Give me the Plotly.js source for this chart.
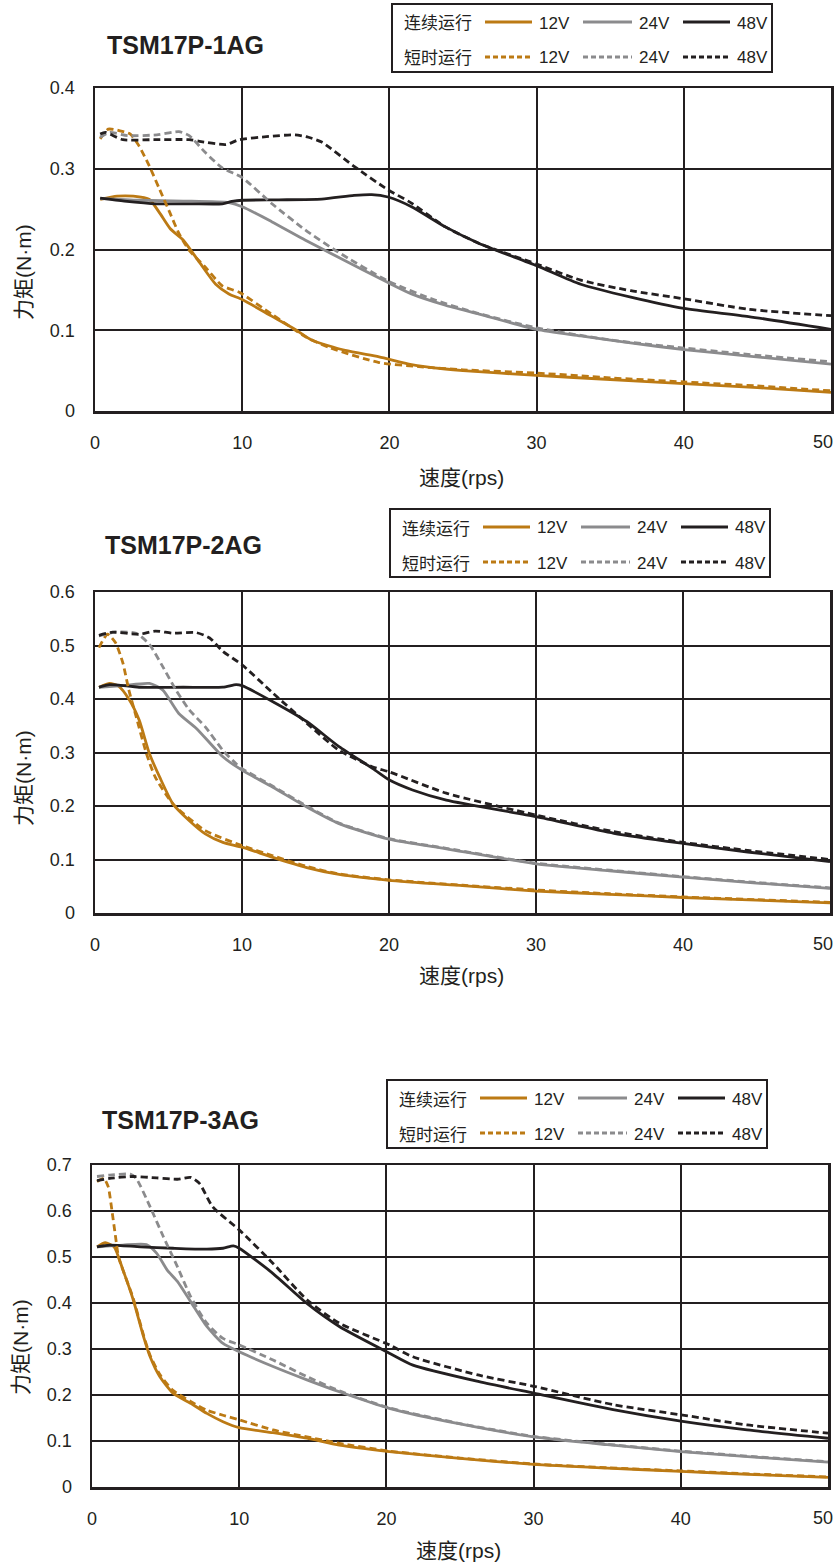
<!DOCTYPE html>
<html><head><meta charset="utf-8">
<script src="https://cdn.plot.ly/plotly-3.0.1.min.js"></script>
<style>html,body{margin:0;padding:0;background:#fff}</style>
</head><body><div id="chart" style="width:836px;height:1566px"></div>
<script>
// ---------- Data (speed rps -> torque N·m) ----------
const chartTitles = ['TSM17P-1AG', 'TSM17P-2AG', 'TSM17P-3AG'];
const voltages = ['12V', '24V', '48V'];
const rowLabels = ['连续运行', '短时运行'];
const xTicks = [0, 10, 20, 30, 40, 50];
const xTickText = ['0', '10', '20', '30', '40', '50'];
const yMax = [0.4, 0.6, 0.7];

// Chart 1: TSM17P-1AG
const c1_12c_x = [0.35,1.5,2.6,3.7,4.4,5.1,6.0,7.1,8.2,9.1,10,12,13.6,14.7,17,19.3,21.5,23.8,25,30,35,40,45,50];
const c1_12c_y = [0.262,0.266,0.266,0.262,0.245,0.226,0.2115,0.184,0.157,0.145,0.138,0.1175,0.101,0.088,0.075,0.067,0.0575,0.052,0.050,0.044,0.039,0.034,0.029,0.023];
const c1_12s_x = [0.35,0.9,1.7,2.4,3.0,3.7,4.4,5.1,5.7,6.4,7.5,8.65,9.8,12,14.3,16,19.3,22,25,30,35,40,45,50];
const c1_12s_y = [0.337,0.349,0.347,0.343,0.328,0.303,0.274,0.245,0.22,0.199,0.178,0.155,0.147,0.12,0.092,0.078,0.060,0.055,0.051,0.047,0.041,0.036,0.031,0.025];
const c1_24c_x = [0.35,3,6,9.1,10,12,14.3,16.5,19.9,21.5,23.8,26.1,30,33,36.5,40,44.4,50];
const c1_24c_y = [0.263,0.261,0.260,0.258,0.253,0.2345,0.2115,0.1906,0.159,0.145,0.131,0.120,0.101,0.093,0.084,0.076,0.068,0.058];
const c1_24s_x = [0.35,1,2.2,4.2,5.7,6.4,7.5,8.65,10,12,14.3,16.5,19.9,23,26,30,35,40,45,50];
const c1_24s_y = [0.339,0.345,0.341,0.342,0.346,0.341,0.320,0.301,0.289,0.257,0.224,0.197,0.161,0.138,0.121,0.103,0.088,0.078,0.069,0.061];
const c1_48c_x = [0.35,2,4.2,6.5,8.65,9.3,10,12.5,15.4,17.6,18.8,19.9,21.5,23.8,26.1,30,33,36.4,40,44.4,50];
const c1_48c_y = [0.2637,0.260,0.2566,0.2566,0.2566,0.2595,0.261,0.2615,0.2624,0.267,0.268,0.265,0.253,0.228,0.2075,0.180,0.157,0.141,0.127,0.117,0.101];
const c1_48s_x = [0.35,0.7,1.9,4,6.4,7.1,8.9,9.8,11.8,13.6,14.5,15.4,17.6,19.9,21.5,23.8,26.1,30,33,36.4,40,44.4,50];
const c1_48s_y = [0.343,0.345,0.336,0.336,0.336,0.334,0.330,0.336,0.340,0.342,0.339,0.333,0.303,0.274,0.2575,0.228,0.2075,0.182,0.162,0.149,0.139,0.126,0.118];

// Chart 2: TSM17P-2AG
const c2_12c_x = [0.27,1,1.6,2.3,3,3.7,4.4,5.3,6.4,7.5,8.7,10,12.1,14.4,16.6,20,25,30,35,40,45,50];
const c2_12c_y = [0.422,0.429,0.424,0.400,0.361,0.298,0.254,0.204,0.173,0.148,0.132,0.123,0.104,0.085,0.072,0.061,0.051,0.041,0.035,0.029,0.024,0.019];
const c2_12s_x = [0.27,0.85,1.4,1.9,2.3,2.8,3.5,4.1,5.3,7.5,10,12.1,14.4,16.6,20,25,30,35,40,45,50];
const c2_12s_y = [0.496,0.521,0.505,0.467,0.417,0.367,0.298,0.254,0.204,0.154,0.126,0.107,0.087,0.073,0.062,0.052,0.043,0.036,0.030,0.025,0.020];
const c2_24c_x = [0.27,1.9,3.7,4.6,5.7,6.9,8.7,10,12.1,14.4,16.6,20,23.9,30,35,40,45,50];
const c2_24c_y = [0.422,0.425,0.429,0.417,0.373,0.345,0.292,0.267,0.235,0.198,0.167,0.138,0.120,0.092,0.079,0.067,0.056,0.046];
const c2_24s_x = [0.27,1.4,2.8,3.7,4.6,5.5,6.4,7.5,8.7,9.6,10,12.1,14.4,16.6,20,23.9,30,35,40,45,50];
const c2_24s_y = [0.518,0.525,0.523,0.502,0.461,0.417,0.380,0.348,0.304,0.279,0.270,0.237,0.200,0.168,0.139,0.121,0.093,0.080,0.068,0.057,0.047];
const c2_48c_x = [0.27,1,3,6,8.7,9.6,10,12.1,14.4,16.6,18.9,20,21.6,23.9,30,35.3,40,44.4,50];
const c2_48c_y = [0.422,0.427,0.422,0.422,0.422,0.427,0.425,0.395,0.358,0.311,0.270,0.249,0.230,0.211,0.180,0.149,0.130,0.114,0.096];
const c2_48s_x = [0.27,1.2,3,4.1,5.3,6.9,7.8,8.7,10,12.1,14.4,16.6,18.9,20,23.9,30,35.3,40,44.4,50];
const c2_48s_y = [0.519,0.525,0.521,0.527,0.523,0.524,0.514,0.489,0.464,0.411,0.355,0.304,0.273,0.264,0.224,0.183,0.152,0.132,0.117,0.100];

// Chart 3: TSM17P-3AG
const c3_12c_x = [0.34,0.9,1.5,2.1,2.8,3.5,3.95,4.6,5.5,6.7,7.8,8.9,10,12.3,14.6,16.8,20.2,25,30,35,40,45,50];
const c3_12c_y = [0.522,0.531,0.522,0.472,0.407,0.327,0.283,0.240,0.204,0.182,0.160,0.142,0.129,0.118,0.106,0.091,0.077,0.062,0.049,0.041,0.034,0.027,0.021];
const c3_12s_x = [0.34,0.8,1.1,1.35,1.6,1.8,2.1,2.8,3.5,3.95,4.6,5.5,6.7,7.8,8.9,10,12.3,14.6,16.8,20.2,25,30,35,40,45,50];
const c3_12s_y = [0.664,0.671,0.653,0.602,0.544,0.500,0.472,0.410,0.330,0.286,0.245,0.210,0.186,0.167,0.156,0.146,0.124,0.109,0.095,0.078,0.063,0.050,0.042,0.035,0.028,0.022];
const c3_24c_x = [0.34,2.1,3.7,4.4,5.1,5.8,6.7,7.8,8.9,10,12.3,14.6,16.8,20.2,25,30,35,40,45,50];
const c3_24c_y = [0.522,0.526,0.527,0.508,0.472,0.447,0.403,0.349,0.312,0.294,0.262,0.233,0.207,0.171,0.137,0.109,0.092,0.077,0.065,0.054];
const c3_24s_x = [0.34,1.2,2.6,3,3.95,4.85,5.8,6.7,7.8,8.9,10,12.3,14.6,16.8,20.2,25,30,35,40,45,50];
const c3_24s_y = [0.675,0.678,0.680,0.671,0.609,0.544,0.479,0.414,0.356,0.323,0.309,0.276,0.240,0.209,0.172,0.138,0.110,0.093,0.078,0.066,0.055];
const c3_48c_x = [0.34,1.2,3.3,5.5,7.8,8.9,9.6,10,12.3,14.6,16.8,20.2,21.8,26.3,30,35.4,40,44.5,50];
const c3_48c_y = [0.522,0.526,0.522,0.519,0.517,0.519,0.524,0.519,0.464,0.399,0.349,0.291,0.265,0.229,0.204,0.168,0.143,0.124,0.106];
const c3_48s_x = [0.34,1.2,2.8,4.4,5.8,6.7,7.3,8.2,10,12.3,14.6,16.8,20.2,21.8,26.3,30,35.4,40,44.5,50];
const c3_48s_y = [0.666,0.671,0.675,0.672,0.669,0.673,0.660,0.609,0.559,0.486,0.407,0.356,0.309,0.283,0.243,0.219,0.179,0.157,0.135,0.117];

// ---------- Styling ----------
const W = 836, H = 1566;
const COLORS = {'12V': '#bc7a14', '24V': '#8b8b8d', '48V': '#231f20'};
const AXC = '#231f20';
const FONT = 'Liberation Sans, Arial, Noto Sans CJK SC, sans-serif';
const CJK = 'Noto Sans CJK SC, Liberation Sans, sans-serif';
const DASH = '7px,4px';
function px(x) { return x / W; }
function py(y) { return 1 - y / H; }

const series = [
  [[c1_12c_x,c1_12c_y],[c1_24c_x,c1_24c_y],[c1_48c_x,c1_48c_y],[c1_12s_x,c1_12s_y],[c1_24s_x,c1_24s_y],[c1_48s_x,c1_48s_y]],
  [[c2_12c_x,c2_12c_y],[c2_24c_x,c2_24c_y],[c2_48c_x,c2_48c_y],[c2_12s_x,c2_12s_y],[c2_24s_x,c2_24s_y],[c2_48s_x,c2_48s_y]],
  [[c3_12c_x,c3_12c_y],[c3_24c_x,c3_24c_y],[c3_48c_x,c3_48c_y],[c3_12s_x,c3_12s_y],[c3_24s_x,c3_24s_y],[c3_48s_x,c3_48s_y]]
];

// pixel geometry for each panel
const geo = [
  {plot:{l:95,r:831,t:88,b:411}, leg:{l:392,t:4}, title:{x:105,y:45}, ytl:{x:23,y:272}, xtl:{x:461,y:477}},
  {plot:{l:95,r:830,t:592,b:913}, leg:{l:390,t:509}, title:{x:103,y:545}, ytl:{x:23,y:778}, xtl:{x:461,y:975}},
  {plot:{l:92,r:828,t:1165,b:1487}, leg:{l:387,t:1080}, title:{x:100,y:1120}, ytl:{x:20,y:1347}, xtl:{x:459,y:1550}}
];

const traces = [];
const layout = {
  width: W, height: H,
  margin: {l:0, r:0, t:0, b:0},
  paper_bgcolor: '#fff', plot_bgcolor: '#fff',
  showlegend: false,
  font: {family: FONT, color: '#231f20', size: 17},
  shapes: [], annotations: []
};

for (let c = 0; c < 3; c++) {
  const g = geo[c];
  const sfx = c === 0 ? '' : String(c + 1);
  series[c].forEach((s, i) => {
    const v = voltages[i % 3];
    traces.push({
      x: s[0], y: s[1], type: 'scatter', mode: 'lines',
      name: rowLabels[i < 3 ? 0 : 1] + ' ' + v,
      xaxis: 'x' + sfx, yaxis: 'y' + sfx,
      line: {color: COLORS[v], width: 2.8, dash: i < 3 ? 'solid' : DASH, shape: 'spline', smoothing: 0.6},
      hoverinfo: 'x+y+name'
    });
  });
  // last x tick label ("50") sits at the paper edge: drawn as an annotation pulled inside
  const shownText = xTickText.map((t, k) => k === xTickText.length - 1 ? '' : t);
  layout['xaxis' + sfx] = {
    domain: [px(g.plot.l), px(g.plot.r)], anchor: 'y' + sfx,
    range: [0, 50], tickvals: xTicks, ticktext: shownText, ticks: '', ticklabelstandoff: 14,
    showgrid: true, gridcolor: AXC, gridwidth: 2, zeroline: false,
    showline: true, mirror: true, linecolor: AXC, linewidth: 2.5,
    tickfont: {family: FONT, size: 18, color: '#231f20'}
  };
  layout.annotations.push({text: xTickText[xTickText.length - 1], xref: 'paper', yref: 'paper',
    x: px(835), y: py(g.plot.b + 31), xanchor: 'right', yanchor: 'middle', showarrow: false,
    font: {family: FONT, size: 18, color: '#231f20'}});
  const yt = [];
  for (let k = 0; k <= Math.round(yMax[c] * 10); k++) yt.push(+(k / 10).toFixed(1));
  layout['yaxis' + sfx] = {
    domain: [py(g.plot.b), py(g.plot.t)], anchor: 'x' + sfx,
    range: [0, yMax[c]], tickvals: yt, ticks: '', ticklabelstandoff: 14,
    showgrid: true, gridcolor: AXC, gridwidth: 2, zeroline: false,
    showline: true, mirror: true, linecolor: AXC, linewidth: 2.5,
    tickfont: {family: FONT, size: 18, color: '#231f20'}
  };
  // chart title
  layout.annotations.push({text: '<b>' + chartTitles[c] + '</b>', xref: 'paper', yref: 'paper',
    x: px(g.title.x), y: py(g.title.y), xanchor: 'left', yanchor: 'middle', showarrow: false,
    font: {family: FONT, size: 25, color: '#231f20'}});
  // axis titles
  layout.annotations.push({text: '力矩(N·m)', xref: 'paper', yref: 'paper', textangle: -90,
    x: px(g.ytl.x), y: py(g.ytl.y), xanchor: 'center', yanchor: 'middle', showarrow: false,
    font: {family: FONT, size: 21, color: '#231f20'}});
  layout.annotations.push({text: '速度(rps)', xref: 'paper', yref: 'paper',
    x: px(g.xtl.x), y: py(g.xtl.y), xanchor: 'center', yanchor: 'middle', showarrow: false,
    font: {family: FONT, size: 21, color: '#231f20'}});
  // legend box
  const L = g.leg.l, T = g.leg.t;
  layout.shapes.push({type: 'rect', xref: 'paper', yref: 'paper',
    x0: px(L), x1: px(L + 380), y0: py(T), y1: py(T + 68),
    line: {color: AXC, width: 2}, fillcolor: '#fff', layer: 'above'});
  const rowsY = [T + 18, T + 53];
  const lineX = [[93, 140], [191, 240], [291, 338]];
  const textX = [145, 245, 343];
  rowsY.forEach((ry, r) => {
    layout.annotations.push({text: rowLabels[r], xref: 'paper', yref: 'paper',
      x: px(L + 10), y: py(ry), xanchor: 'left', yanchor: 'middle', showarrow: false,
      font: {family: CJK, size: 17, color: '#231f20'}});
    voltages.forEach((v, k) => {
      layout.shapes.push({type: 'line', xref: 'paper', yref: 'paper',
        x0: px(L + lineX[k][0]), x1: px(L + lineX[k][1]), y0: py(ry), y1: py(ry),
        line: {color: COLORS[v], width: 2.8, dash: r === 0 ? 'solid' : '5px,3px'}, layer: 'above'});
      layout.annotations.push({text: v, xref: 'paper', yref: 'paper',
        x: px(L + textX[k]), y: py(ry + 1), xanchor: 'left', yanchor: 'middle', showarrow: false,
        font: {family: FONT, size: 17, color: '#231f20'}});
    });
  });
}

Plotly.newPlot('chart', traces, layout, {staticPlot: true, displayModeBar: false});
</script>
</body></html>
